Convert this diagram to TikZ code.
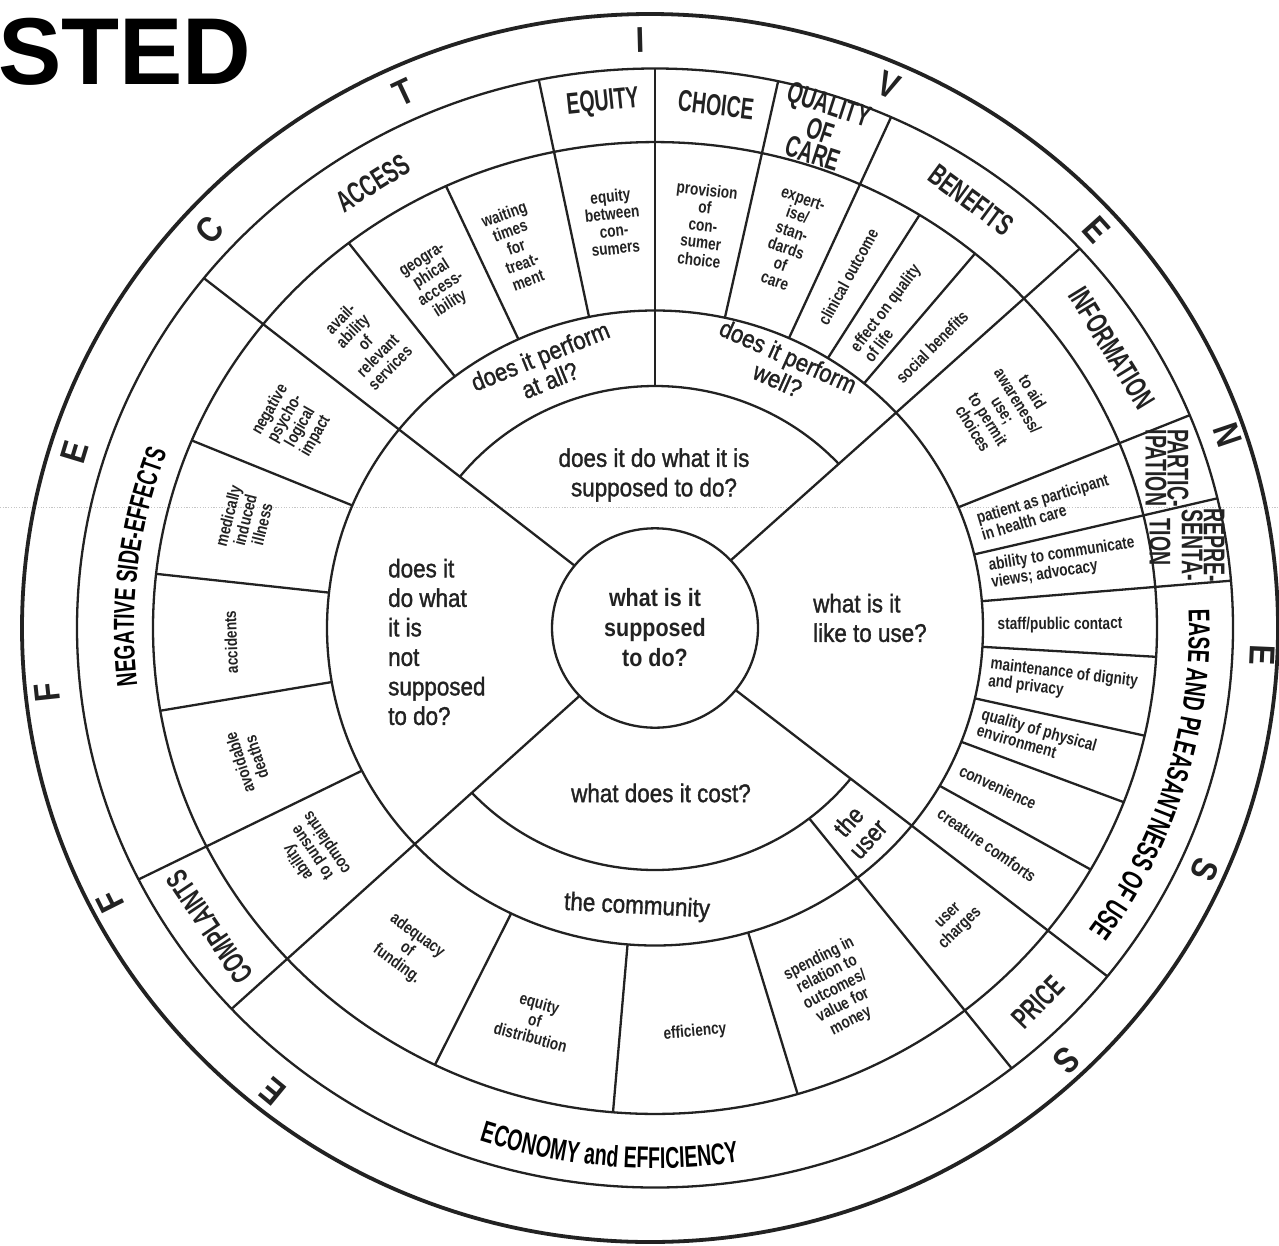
\documentclass[tikz,border=0pt]{standalone}
\usepackage{fontspec}
\setmainfont{Liberation Sans}
\newfontfamily\qf{Liberation Sans}[FakeStretch=0.88, FakeBold=1.3]
\newfontfamily\cf{Liberation Sans}[FakeStretch=0.86]
\newfontfamily\itf{Liberation Sans}[FakeStretch=0.8]
\newfontfamily\catf{Liberation Sans}[FakeStretch=0.65]
\newfontfamily\letf{Liberation Sans}[FakeStretch=0.85]
\usetikzlibrary{decorations.text}
\definecolor{ink}{HTML}{222222}
\begin{document}
\begin{tikzpicture}[x=1pt,y=1pt,
  ln/.style={line width=2.3pt, draw=ink},
  outerln/.style={line width=3.8pt, draw=ink},
  item/.style={font=\itf\bfseries\fontsize{17}{17.5}\selectfont, align=center, inner sep=0pt, text=ink},
  cat/.style={font=\catf\bfseries\fontsize{30}{24}\selectfont, align=center, inner sep=0pt, text=ink},
  qq/.style={font=\qf\fontsize{25.5}{29.5}\selectfont, align=center, inner sep=0pt, text=ink},
  lett/.style={font=\letf\bfseries\fontsize{36}{36}\selectfont, inner sep=0pt, text=ink}]
\fill[white] (0,0) rectangle (1279,-1245);
\useasboundingbox (0,0) rectangle (1279,-1245);

% scan line
\draw[gray!45, line width=0.7pt, dash pattern=on 1.2pt off 1.5pt] (0,-507) -- (1279,-507);

% title
\node[anchor=base west, inner sep=0pt, font=\bfseries\fontsize{95}{95}\selectfont] (title) at (-2,-84) {STED};

% outer circle
\draw[outerln] (650,-628) ellipse[x radius=628, y radius=614];

\begin{scope}[shift={(655,-628)}, yscale=0.968]
  \draw[ln] (0,0) circle[radius=103];
  \draw[ln] (0,0) circle[radius=328];
  \draw[ln] (0,0) circle[radius=502];
  \draw[ln] (0,0) circle[radius=578];
  \draw[ln] (42.7:250) arc[start angle=42.7, end angle=141.3, radius=250];
  \draw[ln] (222.9:250) arc[start angle=222.9, end angle=321.5, radius=250];
  \foreach \a in {101.6,206.7,4.85,13.4,22.35,65.9,77.7}
    \draw[ln] (\a:328) -- (\a:578);
  \foreach \a in {90,308.1}
    \draw[ln] (\a:250) -- (\a:578);
  \foreach \a in {141.3,222.9,321.5,42.7}
    \draw[ln] (\a:103) -- (\a:578);
  \foreach \a in {114.6,127.6,157.3,173.6,189.8,244,265.2,286.5,330.2,339,347.2,356.6,50.4,58.2}
    \draw[ln] (\a:328) -- (\a:502);
  % curved category labels
  \path[decorate, decoration={text along path, text align=center,
    text={|\catf\bfseries\fontsize{30}{30}\selectfont|EASE AND PLEASANTNESS OF USE}}]
    (19.3:534) arc[start angle=19.3, end angle=-52.7, radius=534];
  \path[decorate, decoration={text along path, text align=center,
    text={|\catf\bfseries\fontsize{30}{30}\selectfont|ECONOMY and EFFICIENCY}}]
    (225.1:558) arc[start angle=225.1, end angle=305.1, radius=558];
  \path[decorate, decoration={text along path, text align=center,
    text={|\catf\bfseries\fontsize{29}{29}\selectfont|NEGATIVE SIDE-EFFECTS}}]
    (213.1:521) arc[start angle=213.1, end angle=133.1, radius=521];
\end{scope}

% outer letters
\node[lett, rotate=140.5] (l1) at (273,-1092) {E};
\node[lett, rotate=116.7] (l2) at (110,-902) {F};
\node[lett, rotate=96.1] (l3) at (47,-693) {F};
\node[lett, rotate=73.1] (l4) at (75,-452) {E};
\node[lett, rotate=48.2] (l5) at (210,-230) {C};
\node[lett, rotate=25.1] (l6) at (404,-92) {T};
\node[lett, rotate=1.5] (l7) at (640,-40) {I};
\node[lett, rotate=-23.3] (l8) at (889,-85) {V};
\node[lett, rotate=-48] (l9) at (1097,-230) {E};
\node[lett, rotate=-71.4] (l10) at (1228,-435) {N};
\node[lett, rotate=-92.5] (l11) at (1262,-655) {E};
\node[lett, rotate=-113.7] (l12) at (1205,-870) {S};
\node[lett, rotate=-136.4] (l13) at (1067,-1060) {S};

% category labels
\node[cat, rotate=32] (c1) at (373,-183) {ACCESS};
\node[cat, rotate=6] (c2) at (603,-103) {EQUITY};
\node[cat, rotate=-6.5] (c3) at (716,-105) {CHOICE};
\node[cat, rotate=-18] (c4) at (821,-129) {QUALITY\\OF\\CARE};
\node[cat, rotate=-36.5] (c5) at (971,-200) {BENEFITS};
\node[cat, rotate=-58.5] (c6) at (1112,-348) {INFORMATION};
\node[cat, rotate=-90, font=\catf\bfseries\fontsize{30}{22}\selectfont] (c7) at (1167,-468) {PARTIC-\\IPATION};
\node[cat, rotate=-90, font=\catf\bfseries\fontsize{30}{22}\selectfont] (c8) at (1203,-545) {REPRE-\\SENTA-};
\node[cat, rotate=-90] (c9) at (1160,-542) {TION};
\node[cat, rotate=123.9] (c10) at (210,-927) {COMPLAINTS};
\node[cat, rotate=45.7] (c11) at (1038,-1002) {PRICE};

% items
\node[item, rotate=45.5] (i1) at (365,-343) {avail-\\ability\\of\\relevant\\services};
\node[item, rotate=32.3] (i2) at (437,-283) {geogra-\\phical\\access-\\ibility};
\node[item, rotate=20] (i3) at (516,-247) {waiting\\times\\for\\treat-\\ment};
\node[item, rotate=6] (i4) at (613,-222) {equity\\between\\con-\\sumers};
\node[item, rotate=-6.8] (i5) at (703,-225) {provision\\of\\con-\\sumer\\choice};
\node[item, rotate=-19] (i6) at (789,-240) {expert-\\ise/\\stan-\\dards\\of\\care};
\node[item, rotate=61.2] (i7) at (848,-277) {clinical outcome};
\node[item, rotate=53, align=left] (i8) at (892,-313) {effect on quality\\of life};
\node[item, rotate=45.4] (i9) at (932,-347) {social benefits};
\node[item, rotate=-58] (i10) at (1003,-410) {to aid\\awareness/\\use;\\to permit\\choices};
\node[item, rotate=16.5, align=left] (i11) at (1045,-507) {patient as participant\\in health care};
\node[item, rotate=9, align=left] (i12) at (1063,-563) {ability to communicate\\views; advocacy};
\node[item, rotate=0.5] (i13) at (1060,-625) {staff/public contact};
\node[item, rotate=-7, align=left] (i14) at (1063,-682) {maintenance of dignity\\and privacy};
\node[item, rotate=-16, align=left] (i15) at (1037,-738) {quality of physical\\environment};
\node[item, rotate=-25] (i16) at (998,-787) {convenience};
\node[item, rotate=-35] (i17) at (987,-845) {creature comforts};
\node[item, rotate=44] (i18) at (955,-923) {user\\charges};
\node[item, rotate=27] (i19) at (835,-990) {spending in\\relation to\\outcomes/\\value for\\money};
\node[item, rotate=5] (i20) at (695,-1032) {efficiency};
\node[item, rotate=-15] (i21) at (535,-1020) {equity\\of\\distribution};
\node[item, rotate=-36] (i22) at (407,-950) {adequacy\\of\\funding.};
\node[item, rotate=124] (i23) at (313,-852) {ability\\to pursue\\complaints};
\node[item, rotate=108] (i24) at (248,-760) {avoidable\\deaths};
\node[item, rotate=92] (i25) at (231,-642) {accidents};
\node[item, rotate=76] (i26) at (245,-520) {medically\\induced\\illness};
\node[item, rotate=60] (i27) at (293,-423) {negative\\psycho-\\logical\\impact};

% question texts
\node[qq, font=\cf\bfseries\fontsize{25}{30}\selectfont] (ctr) at (655,-628) {what is it\\supposed\\to do?};
\node[qq] (q1) at (654,-475) {does it do what it is\\supposed to do?};
\node[qq, anchor=west, align=left] (q2) at (388,-642) {does it\\do what\\it is\\not\\supposed\\to do?};
\node[qq, anchor=west, align=left] (q3) at (813,-618) {what is it\\like to use?};
\node[qq] (q4) at (661,-793) {what does it cost?};
\node[qq, rotate=22, font=\qf\fontsize{25}{26}\selectfont] (q5) at (545,-368) {does it perform\\at all?};
\node[qq, rotate=-24, font=\qf\fontsize{25}{26}\selectfont] (q6) at (783,-368) {does it perform\\well?};
\node[qq, rotate=-3] (q7) at (637,-907) {the community};
\node[qq, rotate=48, font=\qf\fontsize{25}{26}\selectfont] (q8) at (858,-830) {the\\user};
\end{tikzpicture}
\end{document}
